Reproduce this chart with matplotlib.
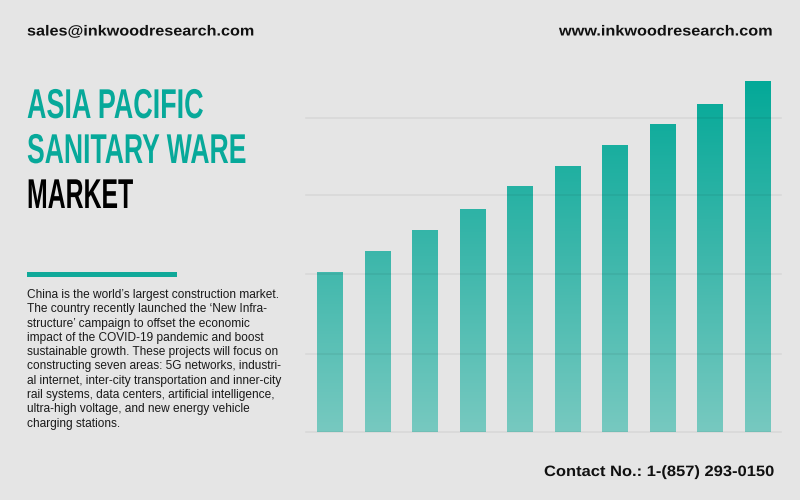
import numpy as np
import matplotlib
matplotlib.use("Agg")
import matplotlib.pyplot as plt
from matplotlib.colors import LinearSegmentedColormap
from matplotlib.patches import Rectangle
from matplotlib.patheffects import AbstractPathEffect
from matplotlib.transforms import Affine2D

values = [2.04, 2.31, 2.57, 2.84, 3.13, 3.39, 3.65, 3.92, 4.18, 4.47]
grid_values = [0, 1, 2.01, 3.015, 4]
title_teal = ["ASIA PACIFIC", "SANITARY WARE"]
title_black = "MARKET"
body_lines = [
    "China is the world’s largest construction market.",
    "The country recently launched the ‘New Infra-",
    "structure’ campaign to offset the economic",
    "impact of the COVID-19 pandemic and boost",
    "sustainable growth. These projects will focus on",
    "constructing seven areas: 5G networks, industri-",
    "al internet, inter-city transportation and inner-city",
    "rail systems, data centers, artificial intelligence,",
    "ultra-high voltage, and new energy vehicle",
    "charging stations.",
]

BG = "#e5e5e5"
TEAL = "#07a99a"
W, H = 800, 500

fig = plt.figure(figsize=(8, 5), dpi=100, facecolor=BG)


def fx(px):
    return px / W


def fy(px):
    return 1 - px / H


class StretchX(AbstractPathEffect):
    # the fonts here have no condensed or extended cut, so stretch the glyphs
    def __init__(self, sx, x0):
        super().__init__()
        self.sx = sx
        self.x0 = x0

    def draw_path(self, renderer, gc, tpath, affine, rgbFace=None):
        stretch = Affine2D().translate(-self.x0, 0).scale(self.sx, 1).translate(self.x0, 0)
        renderer.draw_path(gc, tpath, affine + stretch, rgbFace)


def fit_text(s, x_px, y_px, width_px, size, color, ha="left"):
    # bold Liberation text stretched to a width measured on the reference
    t = fig.text(fx(x_px), fy(y_px), s, fontsize=size, fontweight="bold", family="Liberation Sans",
                 va="baseline", ha=ha, color=color)
    natural = t.get_window_extent(fig.canvas.get_renderer()).width
    t.set_path_effects([StretchX(width_px / natural, x_px)])
    return t


# chart area in pixels: x 306-781, y 70-432
ax = fig.add_axes([fx(306), fy(432), 475 / W, 362 / H], facecolor="none")
ymax = 362 / 78.5
ax.axis("off")

cmap = LinearSegmentedColormap.from_list("bars", ["#77c9c0", "#3db7ab", "#04a998"])
gradient = np.linspace(1, 0, 256).reshape(-1, 1)
x = np.arange(len(values))
bars = ax.bar(x, values, width=0.537, color="none", linewidth=0)
top = max(values)
for bar in bars:
    left = bar.get_x()
    im = ax.imshow(gradient, cmap=cmap, vmin=0, vmax=1, aspect="auto", interpolation="bilinear",
                   extent=(left, left + bar.get_width(), 0, top), zorder=2)
    im.set_clip_path(bar)
ax.set_xlim(-0.505, 9.495)
ax.set_ylim(0, ymax)

for g in grid_values:
    ax.axhline(g, color="black", alpha=0.06, linewidth=1.1, zorder=3, clip_on=False)

# header and footer
fit_text("sales@inkwoodresearch.com", 27, 35.5, 229, 10.5, "#111111")
fit_text("www.inkwoodresearch.com", 774, 35.5, 215, 10.5, "#111111", ha="right")
fit_text("Contact No.: 1-(857) 293-0150", 774, 476, 230, 10.8, "#111111", ha="right")

# title
fit_text(title_teal[0], 27, 118, 176, 30, TEAL)
fit_text(title_teal[1], 27, 163, 219, 30, TEAL)
fit_text(title_black, 27, 208, 106, 30, "black")

# divider above the paragraph
fig.add_artist(Rectangle((fx(27), fy(277)), 150 / W, 5 / H, transform=fig.transFigure,
                         facecolor="#10a999", edgecolor="none"))

for i, line in enumerate(body_lines):
    fig.text(fx(27), fy(298 + i * 14.3), line, fontsize=8.6, family="Liberation Sans",
             va="baseline", ha="left", color="#1a1a1a")

fig.savefig("out.png", dpi=100, facecolor=BG)
